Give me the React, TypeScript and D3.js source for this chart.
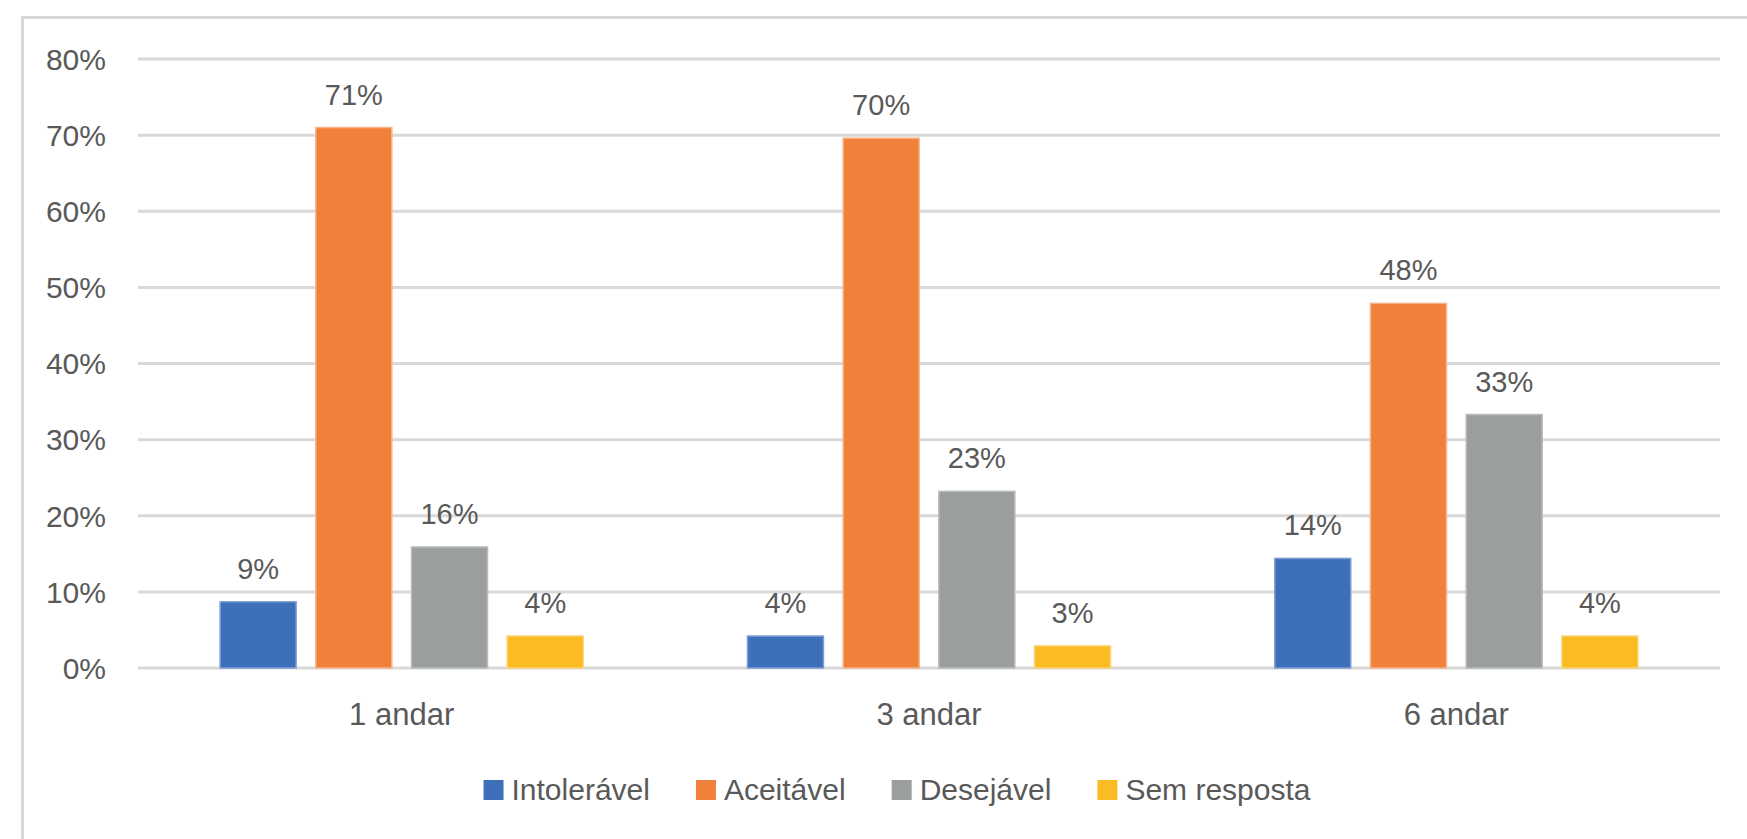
import React from "react";
import * as d3 from "d3";

const categories = ["1 andar", "3 andar", "6 andar"];
const seriesNames = ["Intolerável", "Aceitável", "Desejável", "Sem resposta"];
const seriesColors = ["#3e70ba", "#f0803a", "#9b9e9f", "#fbbb22"];
const seriesStroke = ["#7e9fd6", "#f8b38a", "#b9bbbc", "#fdd274"];
const intoleravel = [8.7, 4.2, 14.4];
const aceitavel = [71.0, 69.6, 47.9];
const desejavel = [15.9, 23.2, 33.3];
const semResposta = [4.2, 2.9, 4.2];
const yTicks = [0, 10, 20, 30, 40, 50, 60, 70, 80];

const W = 1747;
const H = 839;
const FONT = "'Liberation Sans', Arial, sans-serif";
const TEXT = "#595959";

function measure(text: string, size: number): number {
  const c = document.createElement("canvas").getContext("2d");
  if (!c) return text.length * size * 0.5;
  c.font = `${size}px ${FONT}`;
  return c.measureText(text).width;
}

export default function App() {
  const series = [intoleravel, aceitavel, desejavel, semResposta];
  const left = 138;
  const right = 1720;
  const top = 59;
  const bottom = 668;

  const x0 = d3.scaleBand<string>().domain(categories).range([left, right]).paddingInner(0).paddingOuter(0);
  const groupW = 4 * 95.7 - 19.7;
  const x1 = d3
    .scaleBand<number>()
    .domain([0, 1, 2, 3])
    .range([0, groupW])
    .paddingInner(19.7 / 95.7)
    .paddingOuter(0);
  const y = d3.scaleLinear().domain([0, 80]).range([bottom, top]);

  const legendSize = 30;
  const sq = 20;
  const sqGap = 8;
  const itemGap = 46;
  const widths = seriesNames.map((n) => measure(n, legendSize));
  const totalW = widths.reduce((a, w) => a + sq + sqGap + w, 0) + itemGap * (seriesNames.length - 1);
  let lx = 897 - totalW / 2;
  const legendItems = seriesNames.map((n, i) => {
    const item = { x: lx, name: n, color: seriesColors[i] };
    lx += sq + sqGap + widths[i] + itemGap;
    return item;
  });

  return (
    <svg
      width={W}
      height={H}
      style={{ position: "absolute", left: 0, top: 0, background: "#fff" }}
      fontFamily={FONT}
    >
      <rect x={0} y={0} width={W} height={H} fill="#fff" />
      <rect x={22.5} y={17.5} width={W} height={H + 20} fill="none" stroke="#d6d6d6" strokeWidth={3} />
      {yTicks.map((t) => (
        <g key={t}>
          <line x1={left} x2={right} y1={y(t)} y2={y(t)} stroke="#d9d9d9" strokeWidth={3} />
          <text x={106} y={y(t)} dy="0.36em" textAnchor="end" fontSize={30} fill={TEXT}>
            {t}%
          </text>
        </g>
      ))}
      {categories.map((c, ci) => {
        const gx = (x0(c) as number) + x0.bandwidth() / 2 - groupW / 2;
        return (
          <g key={c}>
            {series.map((s, si) => {
              const bx = gx + (x1(si) as number);
              const bw = x1.bandwidth();
              const v = s[ci];
              return (
                <g key={si}>
                  <rect
                    x={bx}
                    y={y(v)}
                    width={bw}
                    height={bottom - y(v)}
                    fill={seriesColors[si]}
                    stroke={seriesStroke[si]}
                    strokeWidth={1.5}
                  />
                  <text x={bx + bw / 2} y={y(v) - 23} textAnchor="middle" fontSize={29} fill={TEXT}>
                    {Math.round(v)}%
                  </text>
                </g>
              );
            })}
            <text x={(x0(c) as number) + x0.bandwidth() / 2} y={725} textAnchor="middle" fontSize={31} fill={TEXT}>
              {c}
            </text>
          </g>
        );
      })}
      {legendItems.map((it) => (
        <g key={it.name}>
          <rect x={it.x} y={780} width={sq} height={sq} fill={it.color} />
          <text x={it.x + sq + sqGap} y={800} fontSize={legendSize} fill={TEXT}>
            {it.name}
          </text>
        </g>
      ))}
    </svg>
  );
}
